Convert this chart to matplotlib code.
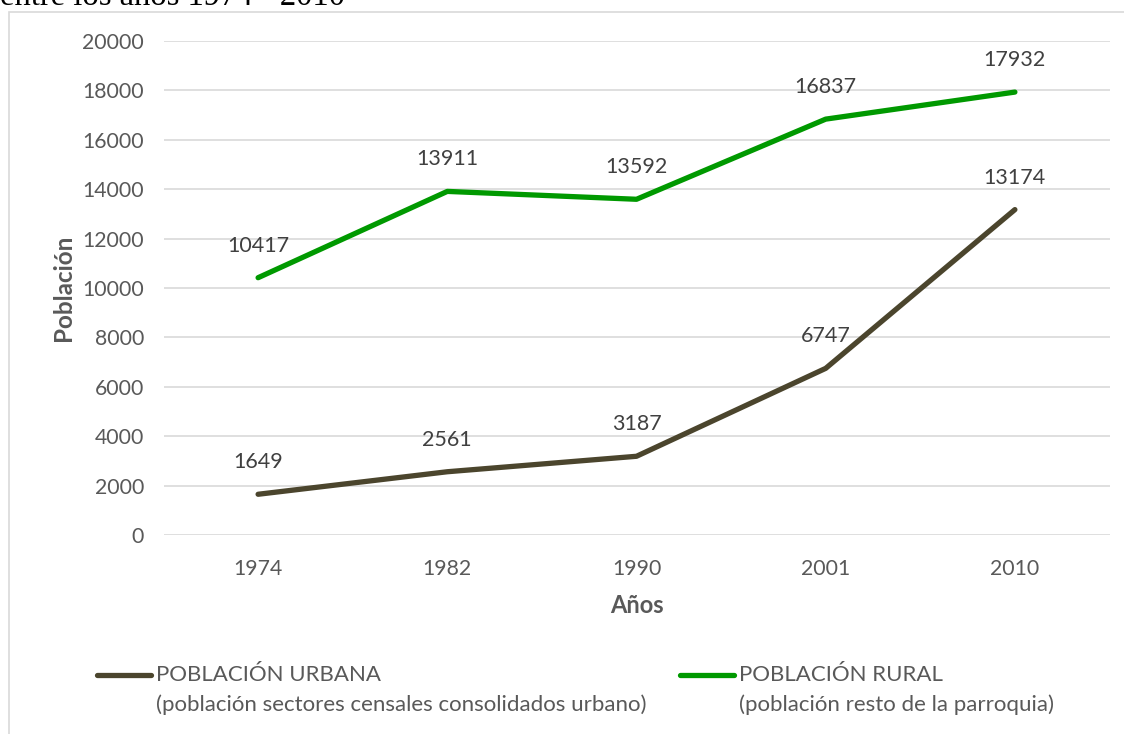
import matplotlib
matplotlib.use('Agg')
import matplotlib.pyplot as plt
from matplotlib.lines import Line2D
from matplotlib.patches import Rectangle

years = ['1974', '1982', '1990', '2001', '2010']
urbana = [1649, 2561, 3187, 6747, 13174]
rural = [10417, 13911, 13592, 16837, 17932]
y_ticks = list(range(0, 20001, 2000))

col_urb = '#4B452D'
col_rur = '#009900'
W, H = 1124, 734

plt.rcParams['font.family'] = ['Lato', 'DejaVu Sans']

fig = plt.figure(figsize=(W / 100, H / 100), dpi=100)

# chart frame (cut by the image edges)
fig.add_artist(Rectangle((9 / W, -0.05), 1.1, 1 - 12 / H + 0.05,
                         transform=fig.transFigure, fill=False,
                         edgecolor='#D9D9D9', linewidth=1.2))

# caption above the chart, cut by the top edge as in the source
fig.text(0.0, 1 - 5 / H, 'entre los años 1974 - 2010', family='Liberation Serif',
         fontsize=23.5, ha='left', va='baseline', color='black')

ax = fig.add_axes([163.5 / W, 1 - 535 / H, 946 / W, 494 / H])
x = list(range(len(years)))
ax.plot(x, urbana, color=col_urb, lw=3.8, solid_capstyle='round', solid_joinstyle='round', zorder=3)
ax.plot(x, rural, color=col_rur, lw=3.8, solid_capstyle='round', solid_joinstyle='round', zorder=3)

for xi, v in zip(x, urbana):
    ax.annotate(str(v), (xi, v), xytext=(0, 23), textcoords='offset points',
                ha='center', va='center', fontsize=15.5, color='#404040')
for xi, v in zip(x, rural):
    ax.annotate(str(v), (xi, v), xytext=(0, 23), textcoords='offset points',
                ha='center', va='center', fontsize=15.5, color='#404040')

ax.set_xlim(-0.5, len(years) - 0.5)
ax.set_ylim(0, 20000)
ax.set_yticks(y_ticks)
ax.set_yticklabels([str(t) for t in y_ticks])
ax.set_xticks(x)
ax.set_xticklabels(years)
ax.tick_params(axis='both', length=0, labelsize=15.3, labelcolor='#595959')
ax.tick_params(axis='y', pad=14)
ax.tick_params(axis='x', pad=17)
ax.grid(axis='y', color='#D9D9D9', linewidth=1.2)
ax.set_axisbelow(True)
for s in ax.spines.values():
    s.set_visible(False)

ax.set_xlabel('Años', fontsize=17, fontweight='bold', color='#595959', labelpad=11)
ax.set_ylabel('Población', fontsize=17.5, fontweight='bold', color='#595959', labelpad=5)

# legend drawn by hand: handle aligned to the first line of each label
legend = [(col_urb, 97, 156, 'POBLACIÓN URBANA', '(población sectores censales consolidados urbano)'),
          (col_rur, 680, 739, 'POBLACIÓN RURAL', '(población resto de la parroquia)')]
for c, x0, tx, l1, l2 in legend:
    fig.add_artist(Line2D([x0 / W, (tx - 5) / W], [1 - 675 / H] * 2,
                          transform=fig.transFigure, color=c, lw=3.8,
                          solid_capstyle='round'))
    fig.text(tx / W, 1 - 675 / H, l1, fontsize=16, color='#595959', va='center', ha='left')
    fig.text(tx / W, 1 - 705 / H, l2, fontsize=16, color='#595959', va='center', ha='left')

fig.savefig('out.png', dpi=100)
plt.close(fig)
